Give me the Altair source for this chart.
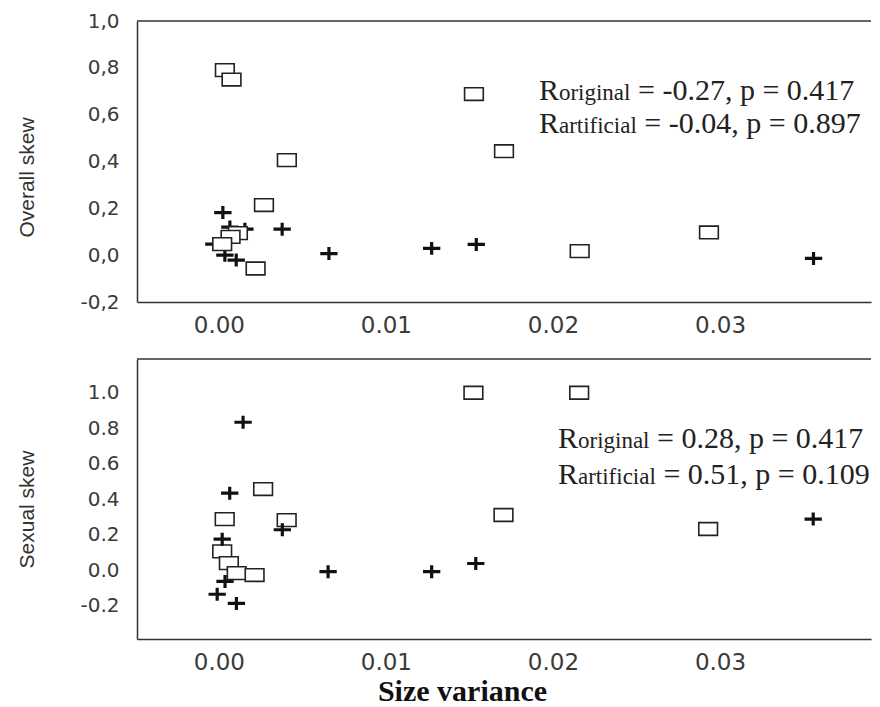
import altair as alt
import pandas as pd

# ---------------- data ----------------
# Top panel: Overall skew
overall_sq_x = [0.00036, 0.00076, 0.00407, 0.0027, 0.00114, 0.0007, 0.0002, 0.0022,
                0.01527, 0.01707, 0.0216, 0.02934]
overall_sq_y = [0.79, 0.75, 0.406, 0.214, 0.094, 0.078, 0.047, -0.057,
                0.688, 0.444, 0.017, 0.097]
overall_cr_x = [0.00024, 0.00156, 0.00379, 0.00659, 0.01274, 0.00036, 0.00104, -0.0003,
                0.00066, 0.01541, 0.0356]
overall_cr_y = [0.182, 0.111, 0.111, 0.007, 0.029, 0.0, -0.021, 0.047,
                0.12, 0.046, -0.014]

# Bottom panel: Sexual skew
sexual_sq_x = [0.00265, 0.00406, 0.00035, 0.0002, 0.0006, 0.00107, 0.00214,
               0.01524, 0.02157, 0.01704, 0.02929]
sexual_sq_y = [0.458, 0.283, 0.289, 0.107, 0.041, -0.015, -0.026,
               1.0, 1.0, 0.312, 0.233]
sexual_cr_x = [0.00145, 0.00065, 0.0038, 0.0002, 0.00037, -0.0001, 0.00105,
               0.00654, 0.01274, 0.01538, 0.03558]
sexual_cr_y = [0.834, 0.435, 0.229, 0.176, -0.062, -0.134, -0.186,
               -0.007, -0.007, 0.039, 0.289]

x_ticks = [0.0, 0.01, 0.02, 0.03]
y_ticks = [-0.2, 0.0, 0.2, 0.4, 0.6, 0.8, 1.0]

overall_stats = [("original", "= -0.27, p = 0.417"), ("artificial", "= -0.04, p = 0.897")]
sexual_stats = [("original", "= 0.28, p = 0.417"), ("artificial", "= 0.51, p = 0.109")]

# annotation anchors (data coordinates)
overall_annot_x = 0.01916
overall_annot_y = [0.662, 0.521]
sexual_annot_x = 0.0203
sexual_annot_y = [0.687, 0.485]

# ---------------- styling ----------------
W = 734
X_DOMAIN = [-0.0049, 0.03904]
RECT_PATH = "M-1,-0.68L1,-0.68L1,0.68L-1,0.68Z"
CROSS_PATH = "M-1,0L1,0M0,-0.75L0,0.75"
SERIF = "Liberation Serif"
SANS = "DejaVu Sans"
FS_BIG = 30
FS_SUB = 23
R_W = 0.667 * FS_BIG
SPACE_W = 0.25 * FS_BIG
SUB_W = {"original": 3.111 * FS_SUB, "artificial": 3.388 * FS_SUB}


def panel(sq_x, sq_y, cr_x, cr_y, ydom, ylabel_expr, ytitle, height, title_y,
          annot_x, annot_y, stats, x_title, squares_on_top):
    xenc = alt.X(
        "x:Q",
        scale=alt.Scale(domain=X_DOMAIN, nice=False, zero=False),
        axis=alt.Axis(
            values=x_ticks, format=".2f", title=x_title,
            labelFont=SANS, labelFontSize=23, labelColor="#3a3a3a", labelPadding=12,
            ticks=False, tickSize=0, grid=False,
            domainColor="#333", domainWidth=1.5,
            titleFont=SERIF, titleFontSize=30, titleFontWeight="bold",
            titleColor="#111", titleX=325, titleY=37,
        ),
    )
    yenc = alt.Y(
        "y:Q",
        scale=alt.Scale(domain=ydom, nice=False, zero=False),
        axis=alt.Axis(
            values=y_ticks, labelExpr=ylabel_expr, title=ytitle,
            labelFont=SANS, labelFontSize=20, labelColor="#3a3a3a", labelPadding=18,
            ticks=False, tickSize=0, grid=False,
            domainColor="#333", domainWidth=1.5,
            titleFont="Liberation Sans", titleFontSize=21, titleFontWeight="normal",
            titleColor="#333", titleX=-100, titleY=title_y,
        ),
    )
    sq = alt.Chart(pd.DataFrame({"x": sq_x, "y": sq_y})).mark_point(
        shape=RECT_PATH, size=350, filled=True, fill="white", stroke="#222",
        strokeWidth=1.6, opacity=1, fillOpacity=1, strokeOpacity=1,
    ).encode(x=xenc, y=yenc)
    cr = alt.Chart(pd.DataFrame({"x": cr_x, "y": cr_y})).mark_point(
        shape=CROSS_PATH, size=300, filled=False, color="#111",
        strokeWidth=3.2, opacity=1,
    ).encode(x=xenc, y=yenc)

    border = alt.Chart(pd.DataFrame({"v": [0]})).mark_rule(
        color="#333", strokeWidth=1.5
    ).encode(x=alt.value(0), x2=alt.value(W), y=alt.value(0))

    texts = []
    for (sub, rest), yy in zip(stats, annot_y):
        d = pd.DataFrame({"x": [annot_x], "y": [yy], "R": ["R"], "sub": [sub], "rest": [rest]})
        base = alt.Chart(d)
        texts.append(base.mark_text(align="left", baseline="alphabetic", font=SERIF,
                                    fontSize=FS_BIG, color="#222").encode(x=xenc, y=yenc, text="R:N"))
        texts.append(base.mark_text(align="left", baseline="alphabetic", font=SERIF,
                                    fontSize=FS_SUB, color="#222", dx=R_W).encode(x=xenc, y=yenc, text="sub:N"))
        texts.append(base.mark_text(align="left", baseline="alphabetic", font=SERIF,
                                    fontSize=FS_BIG, color="#222",
                                    dx=R_W + SUB_W[sub] + SPACE_W).encode(x=xenc, y=yenc, text="rest:N"))

    layers = [border] + ([cr, sq] if squares_on_top else [sq, cr]) + texts
    return alt.layer(*layers).properties(width=W, height=height)


comma_expr = "replace(replace(format(datum.value, '.1f'), '.', ','), '\u2212', '-')"
dot_expr = "replace(format(datum.value, '.1f'), '\u2212', '-')"

top = panel(overall_sq_x, overall_sq_y, overall_cr_x, overall_cr_y,
            [-0.2, 1.0], comma_expr, "Overall skew", 281, 156,
            overall_annot_x, overall_annot_y, overall_stats, None, True)
bottom = panel(sexual_sq_x, sexual_sq_y, sexual_cr_x, sexual_cr_y,
               [-0.386, 1.19], dot_expr, "Sexual skew", 280, 150,
               sexual_annot_x, sexual_annot_y, sexual_stats, "Size variance", False)

chart = alt.vconcat(top, bottom, spacing=21).properties(
    padding={"left": 8, "top": 3, "right": 0, "bottom": 0},
    background="white",
).configure_view(stroke=None)

chart.save("out.html", embed_options={"renderer": "svg", "actions": False})
